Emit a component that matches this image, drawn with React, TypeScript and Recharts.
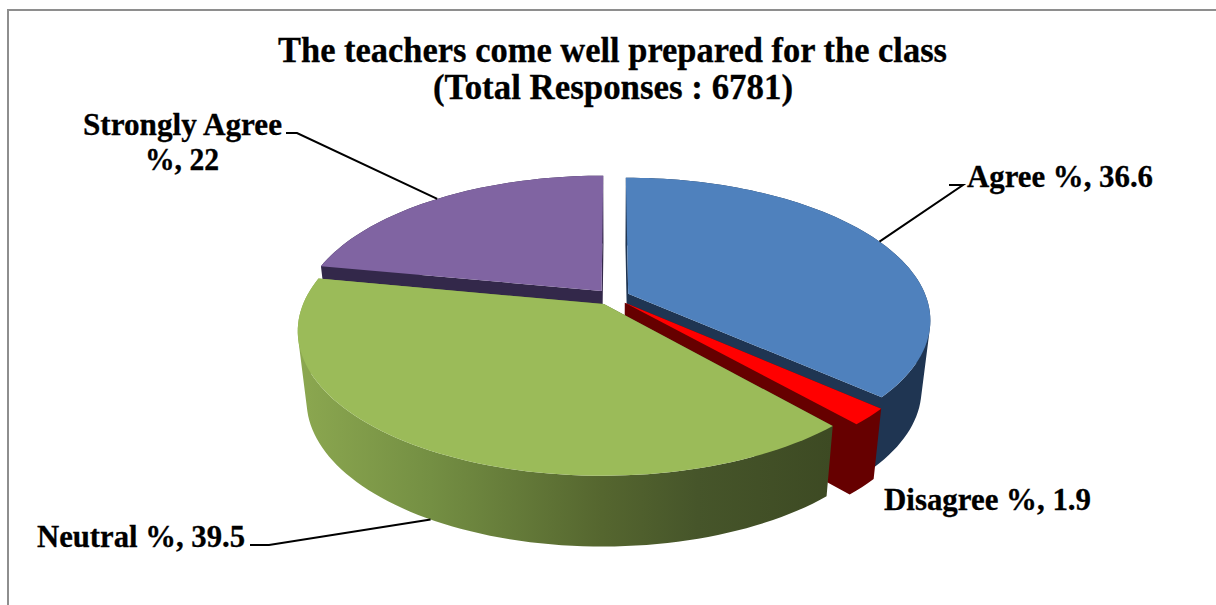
import { PieChart, Pie } from 'recharts';

const categories = ['Agree %', 'Disagree %', 'Neutral %', 'Strongly Agree %'];
const values = [36.6, 1.9, 39.5, 22];

const topColors = ['#4F81BD', '#FF0000', '#9BBB59', '#8064A2'];
const wallColors = ['#1F3552', '#660000', 'url(#neutralWall)', '#33284A'];

const tableData = categories.map((name, i) => ({ name, value: values[i], fill: topColors[i], wall: wallColors[i] }));

// slices painted first, so the front ones can cover their walls
const backSlices = ['Agree %', 'Strongly Agree %'];
const frontSlices = ['Disagree %', 'Neutral %'];

// fake 3D: disk coordinates -> screen with a perspective squash
const PERSPECTIVE = 0.18;
const SQUASH = 138;
const EXPLODE = 0.058;
const WALL_DROP = 69;
const WALL_SHRINK_X = 0.972;
const WALL_STRETCH_Y = 1.01;
const FONT = '"Liberation Serif", serif';

const toClockwise = (angle: number) => ((90 - angle) * Math.PI) / 180;

const project = (u: number, v: number, cx: number, cy: number, r: number, lower: boolean) => {
  const s = 1 / (1 + PERSPECTIVE * v);
  const x = cx + r * u * s;
  const y = cy - SQUASH * v * s;
  if (!lower) return { x, y };
  return { x: cx + (x - cx) * WALL_SHRINK_X, y: cy + (y - cy) * WALL_STRETCH_Y + WALL_DROP };
};

const rimPoint = (t: number, mid: number) => ({
  u: Math.sin(t) + EXPLODE * Math.sin(mid),
  v: Math.cos(t) + EXPLODE * Math.cos(mid),
});

type Pt = { x: number; y: number };

const toPath = (pts: Pt[]) => 'M' + pts.map((p) => `${p.x.toFixed(2)},${p.y.toFixed(2)}`).join('L') + 'Z';

// every quad wound the same way so the joined path has no seams
const wound = (pts: Pt[]) => {
  let area = 0;
  pts.forEach((p, i) => {
    const q = pts[(i + 1) % pts.length];
    area += p.x * q.y - q.x * p.y;
  });
  return area < 0 ? [...pts].reverse() : pts;
};

const SliceShape = (props: any, layer: string[]) => {
  const { cx, cy, outerRadius, startAngle, endAngle, name, fill, wall } = props;
  if (!layer.includes(name)) return <g />;
  const t0 = toClockwise(startAngle);
  const t1 = toClockwise(endAngle);
  const mid = (t0 + t1) / 2;
  const apex = { u: EXPLODE * Math.sin(mid), v: EXPLODE * Math.cos(mid) };
  const rim: { u: number; v: number }[] = [];
  const steps = Math.max(2, Math.ceil((t1 - t0) / 0.03));
  for (let i = 0; i <= steps; i++) rim.push(rimPoint(t0 + ((t1 - t0) * i) / steps, mid));
  const up = (p: { u: number; v: number }) => project(p.u, p.v, cx, cy, outerRadius, false);
  const down = (p: { u: number; v: number }) => project(p.u, p.v, cx, cy, outerRadius, true);

  const quads: string[] = [];
  const edge = [apex, ...rim, apex];
  for (let i = 0; i < edge.length - 1; i++) {
    quads.push(toPath(wound([up(edge[i]), up(edge[i + 1]), down(edge[i + 1]), down(edge[i])])));
  }
  return (
    <g>
      <defs>
        <linearGradient id="neutralWall" gradientUnits="userSpaceOnUse" x1={297} y1={0} x2={832} y2={0}>
          <stop offset="0%" stopColor="#8CA850" />
          <stop offset="25%" stopColor="#748F43" />
          <stop offset="57%" stopColor="#55662F" />
          <stop offset="75%" stopColor="#46552A" />
          <stop offset="100%" stopColor="#3D4A23" />
        </linearGradient>
      </defs>
      <path d={quads.join(' ')} fill={wall} fillRule="nonzero" stroke="none" />
      <path d={toPath([up(apex), ...rim.map(up)])} fill={fill} stroke="none" />
    </g>
  );
};

const labelBoxes: Record<string, { lines: { x: number; y: number; w: number }[]; leader: number[][]; onWall?: boolean }> = {
  'Agree %': { lines: [{ x: 967, y: 187, w: 186 }], leader: [[963, 185], [949, 185]] },
  'Disagree %': { lines: [{ x: 884, y: 510, w: 207 }], leader: [] },
  'Neutral %': { lines: [{ x: 37, y: 547, w: 208 }], leader: [[269, 545], [250, 545]], onWall: true },
  'Strongly Agree %': {
    lines: [{ x: 83, y: 135, w: 199 }, { x: 145, y: 170, w: 74 }],
    leader: [[297, 133], [286, 133]],
  },
};

const renderLabel = (props: any) => {
  const { cx, cy, outerRadius, midAngle, name, value } = props;
  const box = labelBoxes[name];
  const full = `${name}, ${value}`;
  const texts = box.lines.length === 2 ? [name.replace(' %', ''), `%, ${value}`] : [full];
  const t = toClockwise(midAngle);
  const p = rimPoint(t, t);
  const from = project(p.u, p.v, cx, cy, outerRadius, !!box.onWall);
  return (
    <g>
      {box.leader.length > 0 && (
        <polyline
          points={[[from.x, from.y], ...box.leader].map((q) => q.join(',')).join(' ')}
          fill="none"
          stroke="#000"
          strokeWidth={2}
        />
      )}
      {texts.map((s: string, i: number) => (
        <text
          key={i}
          x={box.lines[i].x}
          y={box.lines[i].y}
          fontFamily={FONT}
          fontWeight="bold"
          fontSize={31}
          fill="#000"
          stroke="#000"
          strokeWidth={0.3}
          textLength={box.lines[i].w}
          lengthAdjust="spacingAndGlyphs"
        >
          {s}
        </text>
      ))}
    </g>
  );
};

export default function App() {
  return (
    <div style={{ position: 'absolute', left: 0, top: 0, width: 1216, height: 605, background: '#fff', overflow: 'hidden' }}>
      <div
        style={{
          position: 'absolute',
          left: 7,
          top: 9,
          right: 0,
          bottom: 0,
          borderLeft: '2px solid #8E8E8E',
          borderTop: '2px solid #8E8E8E',
        }}
      />
      <div style={{ position: 'absolute', left: 0, top: 0 }}>
        <PieChart width={1216} height={605} margin={{ top: 0, right: 0, bottom: 0, left: 0 }}>
          <text x={278} y={62} fontFamily={FONT} fontWeight="bold" fontSize={35} fill="#000" stroke="#000" strokeWidth={0.3} textLength={669} lengthAdjust="spacingAndGlyphs">
            The teachers come well prepared for the class
          </text>
          <text x={433} y={99} fontFamily={FONT} fontWeight="bold" fontSize={35} fill="#000" stroke="#000" strokeWidth={0.3} textLength={360} lengthAdjust="spacingAndGlyphs">
            (Total Responses : 6781)
          </text>
          <Pie
            data={tableData}
            dataKey="value"
            nameKey="name"
            cx={612.5}
            cy={297}
            outerRadius={298}
            startAngle={90}
            endAngle={-270}
            stroke="none"
            isAnimationActive={false}
            shape={(p: any) => SliceShape(p, backSlices)}
          />
          <Pie
            data={tableData}
            dataKey="value"
            nameKey="name"
            cx={612.5}
            cy={297}
            outerRadius={298}
            startAngle={90}
            endAngle={-270}
            stroke="none"
            isAnimationActive={false}
            shape={(p: any) => SliceShape(p, frontSlices)}
            label={renderLabel}
            labelLine={false}
          />
        </PieChart>
      </div>
    </div>
  );
}
